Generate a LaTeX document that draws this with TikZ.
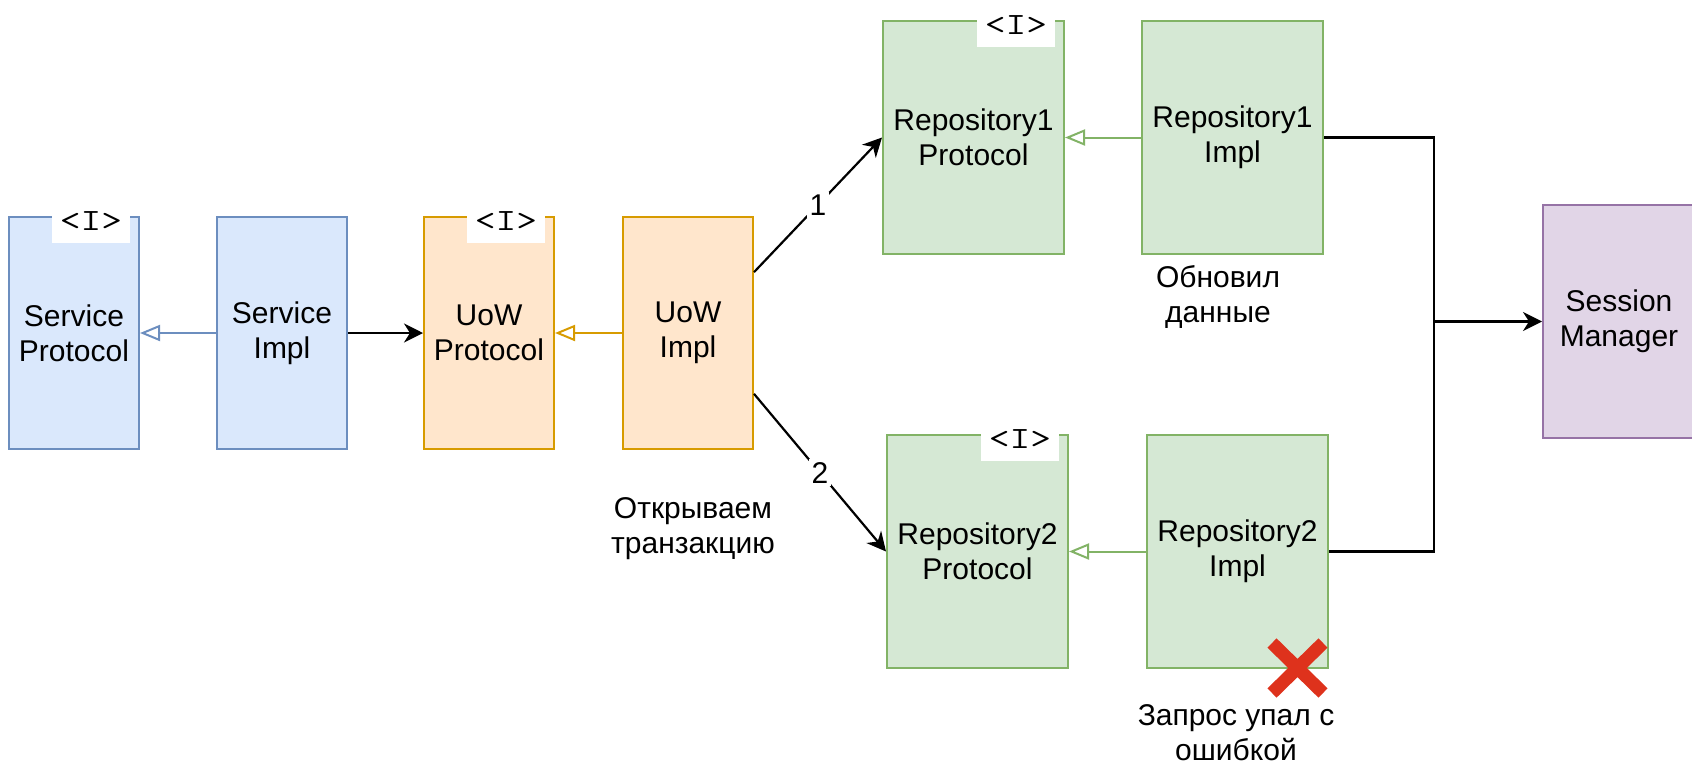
\documentclass[tikz,border=0pt]{standalone}
\usepackage{fontspec}
\setmainfont{Liberation Sans}
\usetikzlibrary{arrows.meta,calc}

\definecolor{svcFill}{HTML}{DAE8FC}
\definecolor{svcLine}{HTML}{6C8EBF}
\definecolor{uowFill}{HTML}{FFE6CC}
\definecolor{uowLine}{HTML}{D79B00}
\definecolor{repoFill}{HTML}{D5E8D4}
\definecolor{repoLine}{HTML}{82B366}
\definecolor{smFill}{HTML}{E1D5E7}
\definecolor{smLine}{HTML}{9673A6}
\definecolor{failRed}{RGB}{222,50,28}

\begin{document}
\begin{tikzpicture}[x=0.5pt,y=-0.5pt,
  txt/.style={font=\fontsize{15pt}{17.5pt}\selectfont, align=center, inner sep=0pt},
  box/.style={txt, draw, line width=1pt, minimum width=65pt, minimum height=116pt},
  repobox/.style={box, minimum width=90.5pt, minimum height=116.5pt},
  svc/.style={fill=svcFill, draw=svcLine},
  uow/.style={fill=uowFill, draw=uowLine},
  repo/.style={repobox, fill=repoFill, draw=repoLine},
  tabtext/.style={font=\fontsize{15.5pt}{18pt}\selectfont\ttfamily, inner sep=0pt},
  realizes/.style={line width=1pt, -{Triangle[open, length=10pt, width=8pt]}},
  calls/.style={line width=1.1pt, black, -{Stealth[length=9.5pt, width=9.5pt, inset=3pt]}},
  wire/.style={line width=1.1pt, black},
  edgenum/.style={txt, fill=white, inner sep=1.5pt}
]
\useasboundingbox (0,0) rectangle (1692,766);

% service layer
\node[box, svc] (sp) at (74,333)  {Service\\Protocol};
\node[box, svc] (si) at (282,333) {Service\\Impl};

% unit of work
\node[box, uow] (up) at (489,333) {UoW\\Protocol};
\node[box, uow] (ui) at (688,333) {UoW\\Impl};

% repositories
\node[repo] (r1p) at (973.5,137.5)  {Repository1\\Protocol};
\node[repo] (r1i) at (1232.5,137.5) {Repository1\\Impl};
\node[repo] (r2p) at (977.5,551.5)  {Repository2\\Protocol};
\node[repo] (r2i) at (1237.5,551.5) {Repository2\\Impl};

% session manager, running past the right edge
\node[box, fill=smFill, draw=smLine, minimum width=76pt, minimum height=116.5pt]
  (sm) at (1619,321.5) {Session\\Manager};

% interface tabs on the protocol boxes
\foreach \n in {sp,up,r1p,r2p} {
  \fill[white] ($(\n.north east)+(-88,-10)$) rectangle ($(\n.north east)+(-10,27)$);
  \node[tabtext] (\n-tab) at ($(\n.north east)+(-49,5)$) {\scalebox{1.3}[1]{<I>}};
}

% realisation arrows
\draw[realizes, svcLine]  (si.west)  -- (sp.east);
\draw[realizes, uowLine]  (ui.west)  -- (up.east);
\draw[realizes, repoLine] (r1i.west) -- (r1p.east);
\draw[realizes, repoLine] (r2i.west) -- (r2p.east);

% calls
\draw[calls] (si.east) -- (up.west);
\coordinate (ui-up) at ($(ui.north east)!0.24!(ui.south east)$);
\coordinate (ui-dn) at ($(ui.north east)!0.76!(ui.south east)$);
\draw[calls] (ui-up) -- node[edgenum] (n1) {1} (r1p.west);
\draw[calls] (ui-dn) -- node[edgenum] (n2) {2} (r2p.west);

% both repositories share the session manager
\coordinate (bus) at (1434,321.5);
\draw[wire] (r1i.east) -| (bus);
\draw[wire] (r2i.east) -| (bus);
\draw[calls] (bus) -- (sm.west);

% notes
\node[txt] (note-open) at (693,529) {Открываем\\транзакцию};
\node[txt] (note-upd)  at (1218,297) {Обновил\\данные};
\node[txt] (note-err)  at (1236,733) {Запрос упал с\\ошибкой};

% failure mark
\draw[failRed, line width=6.5pt] (1272,643) -- (1323,693) (1272,693) -- (1323,643);
\end{tikzpicture}
\end{document}
